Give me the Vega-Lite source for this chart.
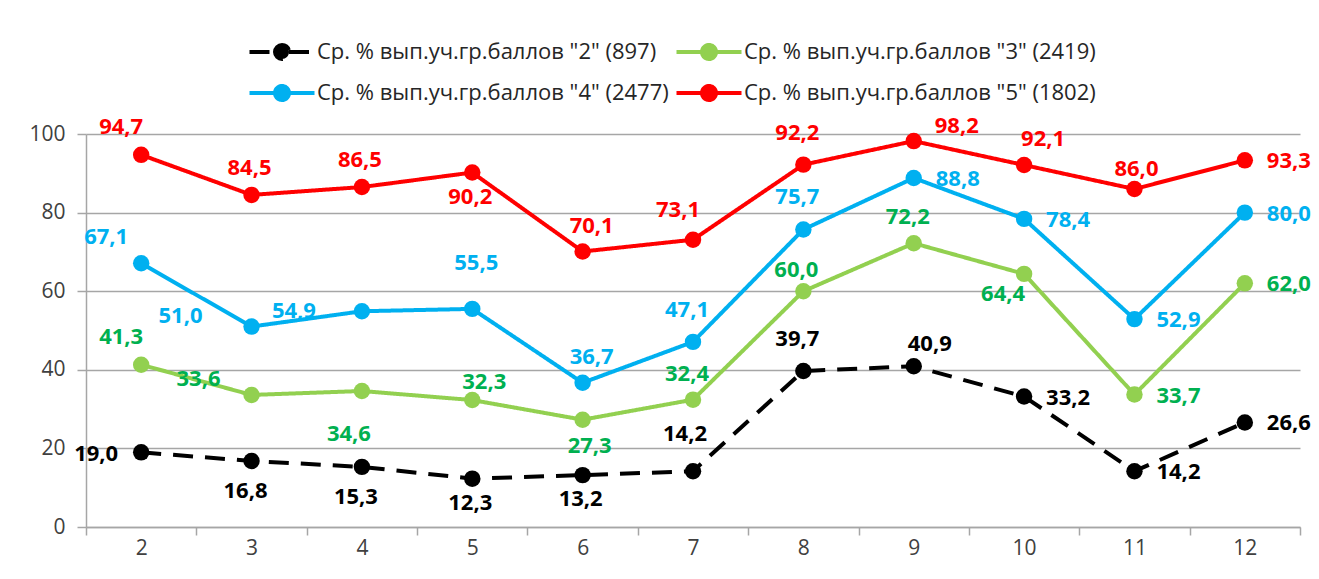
{
  "$schema": "https://vega.github.io/schema/vega-lite/v6.json",
  "width": 1214,
  "height": 393,
  "autosize": "none",
  "padding": {"left": 86, "top": 134, "right": 19, "bottom": 52},
  "background": "#ffffff",
  "config": {
    "view": {"stroke": null},
    "font": "Open Sans",
    "locale": {"number": {"decimal": ",", "thousands": " ", "grouping": [3], "currency": ["", ""]}},
    "axis": {"labelFont": "Open Sans", "labelFontSize": 21, "labelColor": "#404040", "domainColor": "#A6A6A6", "tickColor": "#A6A6A6", "gridColor": "#A6A6A6", "domainWidth": 1.5, "tickWidth": 1.5, "gridWidth": 1.5, "title": null},
    "text": {"fontSize": 22, "fontWeight": "bold", "baseline": "middle", "font": "Open Sans"}
  },
  "data": {"values": [
    {"x": 2, "g": 2, "series": "Ср. % вып.уч.гр.баллов \"2\" (897)", "v": 19.0},
    {"x": 3, "g": 2, "series": "Ср. % вып.уч.гр.баллов \"2\" (897)", "v": 16.8},
    {"x": 4, "g": 2, "series": "Ср. % вып.уч.гр.баллов \"2\" (897)", "v": 15.3},
    {"x": 5, "g": 2, "series": "Ср. % вып.уч.гр.баллов \"2\" (897)", "v": 12.3},
    {"x": 6, "g": 2, "series": "Ср. % вып.уч.гр.баллов \"2\" (897)", "v": 13.2},
    {"x": 7, "g": 2, "series": "Ср. % вып.уч.гр.баллов \"2\" (897)", "v": 14.2},
    {"x": 8, "g": 2, "series": "Ср. % вып.уч.гр.баллов \"2\" (897)", "v": 39.7},
    {"x": 9, "g": 2, "series": "Ср. % вып.уч.гр.баллов \"2\" (897)", "v": 40.9},
    {"x": 10, "g": 2, "series": "Ср. % вып.уч.гр.баллов \"2\" (897)", "v": 33.2},
    {"x": 11, "g": 2, "series": "Ср. % вып.уч.гр.баллов \"2\" (897)", "v": 14.2},
    {"x": 12, "g": 2, "series": "Ср. % вып.уч.гр.баллов \"2\" (897)", "v": 26.6},
    {"x": 2, "g": 3, "series": "Ср. % вып.уч.гр.баллов \"3\" (2419)", "v": 41.3},
    {"x": 3, "g": 3, "series": "Ср. % вып.уч.гр.баллов \"3\" (2419)", "v": 33.6},
    {"x": 4, "g": 3, "series": "Ср. % вып.уч.гр.баллов \"3\" (2419)", "v": 34.6},
    {"x": 5, "g": 3, "series": "Ср. % вып.уч.гр.баллов \"3\" (2419)", "v": 32.3},
    {"x": 6, "g": 3, "series": "Ср. % вып.уч.гр.баллов \"3\" (2419)", "v": 27.3},
    {"x": 7, "g": 3, "series": "Ср. % вып.уч.гр.баллов \"3\" (2419)", "v": 32.4},
    {"x": 8, "g": 3, "series": "Ср. % вып.уч.гр.баллов \"3\" (2419)", "v": 60.0},
    {"x": 9, "g": 3, "series": "Ср. % вып.уч.гр.баллов \"3\" (2419)", "v": 72.2},
    {"x": 10, "g": 3, "series": "Ср. % вып.уч.гр.баллов \"3\" (2419)", "v": 64.4},
    {"x": 11, "g": 3, "series": "Ср. % вып.уч.гр.баллов \"3\" (2419)", "v": 33.7},
    {"x": 12, "g": 3, "series": "Ср. % вып.уч.гр.баллов \"3\" (2419)", "v": 62.0},
    {"x": 2, "g": 4, "series": "Ср. % вып.уч.гр.баллов \"4\" (2477)", "v": 67.1},
    {"x": 3, "g": 4, "series": "Ср. % вып.уч.гр.баллов \"4\" (2477)", "v": 51.0},
    {"x": 4, "g": 4, "series": "Ср. % вып.уч.гр.баллов \"4\" (2477)", "v": 54.9},
    {"x": 5, "g": 4, "series": "Ср. % вып.уч.гр.баллов \"4\" (2477)", "v": 55.5},
    {"x": 6, "g": 4, "series": "Ср. % вып.уч.гр.баллов \"4\" (2477)", "v": 36.7},
    {"x": 7, "g": 4, "series": "Ср. % вып.уч.гр.баллов \"4\" (2477)", "v": 47.1},
    {"x": 8, "g": 4, "series": "Ср. % вып.уч.гр.баллов \"4\" (2477)", "v": 75.7},
    {"x": 9, "g": 4, "series": "Ср. % вып.уч.гр.баллов \"4\" (2477)", "v": 88.8},
    {"x": 10, "g": 4, "series": "Ср. % вып.уч.гр.баллов \"4\" (2477)", "v": 78.4},
    {"x": 11, "g": 4, "series": "Ср. % вып.уч.гр.баллов \"4\" (2477)", "v": 52.9},
    {"x": 12, "g": 4, "series": "Ср. % вып.уч.гр.баллов \"4\" (2477)", "v": 80.0},
    {"x": 2, "g": 5, "series": "Ср. % вып.уч.гр.баллов \"5\" (1802)", "v": 94.7},
    {"x": 3, "g": 5, "series": "Ср. % вып.уч.гр.баллов \"5\" (1802)", "v": 84.5},
    {"x": 4, "g": 5, "series": "Ср. % вып.уч.гр.баллов \"5\" (1802)", "v": 86.5},
    {"x": 5, "g": 5, "series": "Ср. % вып.уч.гр.баллов \"5\" (1802)", "v": 90.2},
    {"x": 6, "g": 5, "series": "Ср. % вып.уч.гр.баллов \"5\" (1802)", "v": 70.1},
    {"x": 7, "g": 5, "series": "Ср. % вып.уч.гр.баллов \"5\" (1802)", "v": 73.1},
    {"x": 8, "g": 5, "series": "Ср. % вып.уч.гр.баллов \"5\" (1802)", "v": 92.2},
    {"x": 9, "g": 5, "series": "Ср. % вып.уч.гр.баллов \"5\" (1802)", "v": 98.2},
    {"x": 10, "g": 5, "series": "Ср. % вып.уч.гр.баллов \"5\" (1802)", "v": 92.1},
    {"x": 11, "g": 5, "series": "Ср. % вып.уч.гр.баллов \"5\" (1802)", "v": 86.0},
    {"x": 12, "g": 5, "series": "Ср. % вып.уч.гр.баллов \"5\" (1802)", "v": 93.3}
  ]},
  "encoding": {
    "y": {"field": "v", "type": "quantitative", "scale": {"domain": [0, 100], "nice": false, "zero": true},
      "axis": {"values": [0, 20, 40, 60, 80, 100], "grid": true, "tickSize": 9, "labelPadding": 12, "domain": true}}
  },
  "layer": [
    {
      "mark": {"type": "line", "strokeWidth": 4},
      "encoding": {
        "x": {"field": "x", "type": "quantitative", "scale": {"domain": [1.5, 12.5], "nice": false, "zero": false},
          "axis": {"orient": "bottom", "values": [2, 3, 4, 5, 6, 7, 8, 9, 10, 11, 12], "format": "d", "ticks": false, "tickSize": 0, "grid": false, "labelPadding": 10, "domain": true}},
        "color": {"field": "series", "type": "nominal",
          "scale": {"domain": ["Ср. % вып.уч.гр.баллов \"2\" (897)", "Ср. % вып.уч.гр.баллов \"3\" (2419)", "Ср. % вып.уч.гр.баллов \"4\" (2477)", "Ср. % вып.уч.гр.баллов \"5\" (1802)"],
            "range": ["#000000", "#92D050", "#00B0F0", "#FF0000"]},
          "legend": {"orient": "none", "legendX": 169, "legendY": -104, "direction": "horizontal", "columns": 2, "title": null,
            "symbolType": "M-1.375,0H-0.1M0.6,0H1.875M-0.1,0A0.35,0.35,0,1,1,0.6,0A0.35,0.35,0,1,1,-0.1,0Z",
            "symbolSize": 1600, "symbolStrokeWidth": 4, "labelFontSize": 22, "labelFont": "Open Sans", "labelColor": "#262626",
            "labelOffset": 18, "columnPadding": -1, "rowPadding": 4, "labelLimit": 0,
            "encode": {"symbols": {"update": {"fill": {"scale": "color", "field": "value"}}}}}},
        "strokeDash": {"field": "series", "type": "nominal",
          "scale": {"domain": ["Ср. % вып.уч.гр.баллов \"2\" (897)", "Ср. % вып.уч.гр.баллов \"3\" (2419)", "Ср. % вып.уч.гр.баллов \"4\" (2477)", "Ср. % вып.уч.гр.баллов \"5\" (1802)"],
            "range": [[20, 12], [1, 0], [1, 0], [1, 0]]},
          "legend": null}
      }
    },
    {
      "mark": {"type": "point", "filled": true, "shape": "circle", "size": 270, "opacity": 1},
      "encoding": {
        "x": {"field": "x", "type": "quantitative", "scale": {"domain": [1.5, 12.5], "nice": false, "zero": false},
          "axis": {"orient": "bottom", "values": [1.5, 2.5, 3.5, 4.5, 5.5, 6.5, 7.5, 8.5, 9.5, 10.5, 11.5, 12.5], "labels": false, "ticks": true, "tickSize": 8, "grid": false, "domain": false}},
        "color": {"field": "series", "type": "nominal", "legend": null}
      }
    },
    {
      "encoding": {
        "x": {"field": "x", "type": "quantitative", "axis": null},
        "text": {"field": "v", "type": "quantitative", "format": ".1f"},
        "color": {"condition": [{"test": "datum.g==2", "value": "#000000"}, {"test": "datum.g==3", "value": "#00B050"}, {"test": "datum.g==4", "value": "#00B0F0"}], "value": "#FF0000"}
      },
      "layer": [
        {"transform": [{"filter": "datum.g==5 && indexof([3,4],datum.x)>=0"}], "mark": {"type": "text", "dx": -2, "dy": -27}},
        {"transform": [{"filter": "(datum.g==5 && datum.x==6) || (datum.g==4 && datum.x==6)"}], "mark": {"type": "text", "dx": 9, "dy": -26}},
        {"transform": [{"filter": "datum.g==3 && indexof([7,9],datum.x)>=0"}], "mark": {"type": "text", "dx": -6, "dy": -26}},
        {"transform": [{"filter": "(datum.g==5 && datum.x==8) || (datum.g==4 && indexof([7,8],datum.x)>=0) || (datum.g==2 && datum.x==8)"}], "mark": {"type": "text", "dx": -6, "dy": -32}},
        {"transform": [{"filter": "(datum.g==5 && datum.x==5) || (datum.g==2 && indexof([5,6],datum.x)>=0)"}], "mark": {"type": "text", "dx": -2, "dy": 24}},
        {"transform": [{"filter": "datum.g==2 && indexof([3,4],datum.x)>=0"}], "mark": {"type": "text", "dx": -6, "dy": 30}},
        {"transform": [{"filter": "(datum.g==5 && datum.x==12) || (datum.g==4 && indexof([9,10,11,12],datum.x)>=0) || (datum.g==3 && indexof([11,12],datum.x)>=0) || (datum.g==2 && indexof([10,11,12],datum.x)>=0)"}], "mark": {"type": "text", "align": "left", "dx": 22, "dy": 1}},
        {"transform": [{"filter": "(datum.g==5 || datum.g==3) && datum.x==2"}], "mark": {"type": "text", "dx": -20, "dy": -28}},
        {"transform": [{"filter": "datum.g==5 && datum.x==7"}], "mark": {"type": "text", "dx": -15, "dy": -30}},
        {"transform": [{"filter": "datum.g==5 && datum.x==9"}], "mark": {"type": "text", "dx": 43, "dy": -15}},
        {"transform": [{"filter": "datum.g==5 && datum.x==10"}], "mark": {"type": "text", "dx": 19, "dy": -26}},
        {"transform": [{"filter": "datum.g==5 && datum.x==11"}], "mark": {"type": "text", "dx": 2, "dy": -20}},
        {"transform": [{"filter": "datum.g==4 && datum.x==2"}], "mark": {"type": "text", "dx": -35, "dy": -26}},
        {"transform": [{"filter": "datum.g==4 && datum.x==3"}], "mark": {"type": "text", "align": "right", "dx": -49, "dy": -11}},
        {"transform": [{"filter": "datum.g==4 && datum.x==4"}], "mark": {"type": "text", "align": "right", "dx": -46, "dy": 0}},
        {"transform": [{"filter": "datum.g==4 && datum.x==5"}], "mark": {"type": "text", "dx": 4, "dy": -46}},
        {"transform": [{"filter": "datum.g==3 && datum.x==3"}], "mark": {"type": "text", "align": "right", "dx": -31, "dy": -16}},
        {"transform": [{"filter": "datum.g==3 && datum.x==4"}], "mark": {"type": "text", "dx": -13, "dy": 43}},
        {"transform": [{"filter": "datum.g==3 && datum.x==5"}], "mark": {"type": "text", "dx": 12, "dy": -18}},
        {"transform": [{"filter": "datum.g==3 && datum.x==6"}], "mark": {"type": "text", "dx": 7, "dy": 26}},
        {"transform": [{"filter": "datum.g==3 && datum.x==8"}], "mark": {"type": "text", "dx": -7, "dy": -21}},
        {"transform": [{"filter": "datum.g==3 && datum.x==10"}], "mark": {"type": "text", "align": "right", "dx": 1, "dy": 20}},
        {"transform": [{"filter": "datum.g==2 && datum.x==2"}], "mark": {"type": "text", "align": "right", "dx": -23, "dy": 2}},
        {"transform": [{"filter": "datum.g==2 && datum.x==7"}], "mark": {"type": "text", "dx": -8, "dy": -37}},
        {"transform": [{"filter": "datum.g==2 && datum.x==9"}], "mark": {"type": "text", "dx": 16, "dy": -22}}
      ]
    }
  ],
  "resolve": {"axis": {"x": "independent"}}
}
